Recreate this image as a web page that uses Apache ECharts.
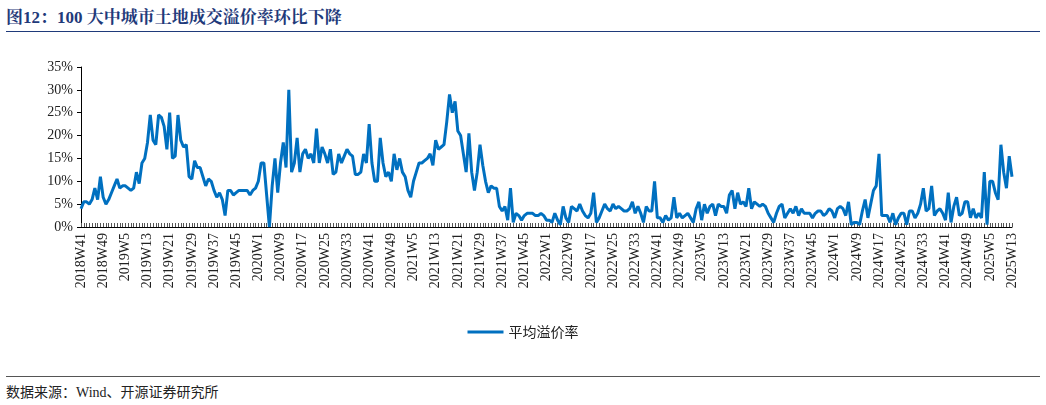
<!DOCTYPE html>
<html><head><meta charset="utf-8">
<script src="https://cdn.jsdelivr.net/npm/echarts@6/dist/echarts.min.js"></script>
<style>
body{margin:0;width:1046px;height:405px;background:#fff;font-family:"Liberation Serif","Noto Sans CJK SC",serif;position:relative;overflow:hidden}
#t{position:absolute;left:6px;top:3px;font-size:17px;font-weight:bold;color:#1f3a7a;font-family:"Liberation Serif","Noto Serif CJK SC","Noto Sans CJK SC"}
#l1{position:absolute;left:6px;right:6px;top:31px;border-top:1px solid #1f3a7a}
#l2{position:absolute;left:6px;right:6px;top:376px;border-top:1px solid #555}
#s{position:absolute;left:6px;top:381px;font-size:14px;color:#222}
#d{position:absolute;left:0;top:40px;width:1046px;height:320px}
</style></head><body>
<div id="t">图12：100 大中城市土地成交溢价率环比下降</div>
<div id="l1"></div>
<div id="d"></div>
<div id="l2"></div>
<div id="s">数据来源：Wind、开源证券研究所</div>
<script>
var seriesName='平均溢价率';
var startYear=2018, startWeek=41, endYear=2025, endWeek=13;
var premium=[
4,5.5,5.5,5,6,8.5,6,11,
6.5,5,6,7.5,9,10.5,8.5,9,
9,8.5,8,8.5,12,9.5,14,15,
18.5,24.5,19,18,24.5,24,22,17,
25,15,15.5,24.5,19,17.5,18,11,
10.5,14.5,13,13,11,9,10.5,10,
8,6.5,7.5,6,2.5,8,8,7,
7.5,8,8,8,8,7,8,8.5,
10,14,14,7,0,9,15,7.5,
14,18.5,13,30,12,14,19.5,12,
16,17,15,16,14,21.5,14,17.5,
16,14,17,11.5,12,16,14,15.5,
17,16,15.5,11.5,11.5,12,16,14,
22.5,14,10,10,19.5,14,11,12,
10,16,12.5,15,12,11,8,6.5,
10,12,14,14,14.5,15,16,13.5,
19,17,17.5,18,23,29,25,27.5,
21,20,16,12,20.5,12,8,12,
18,13.5,10,7.5,9,8.5,8.5,4.5,
3.5,4.5,1.5,8.5,1,3,2.5,1.5,
2.5,3,3,3,2.5,2.5,3,2.5,
1.5,1.5,1,3,1.5,0.5,4.5,2,
1,4.5,4,3.5,5,3.5,2.5,2,
3,7.5,1,2,3.5,5,4,3.5,
5,4,4.5,4,3.5,3.5,4,5.5,
3,4.5,3,1,4.5,3.5,3.5,10,
2,2,1,2.5,1.5,2,6.5,2,
3,2,2.5,3,2,1,4,5.5,
1.5,5,3,4.5,5,2.5,5,4.5,
4.5,3,7,8,4,7.5,5,5.5,
4.5,8.5,4,5.5,5,4.5,5,4.5,
3,2,1,3,4.5,5,2,3,
4,3,4.5,2.5,4,3,3,3,
2,3,3.5,3.5,2.5,3,4,3.5,
2,4,4.5,4,2.5,5.5,0.5,1,
1,0.5,3.5,6,2,5,8,9,
16,2.5,2.5,2.5,1,3,0.5,2,
3,3,0.5,3.5,3.5,2,3,5,
8.5,3.5,4,9,2.5,3.5,4,3,
1.5,7.5,1,4.5,6.5,2.5,3,5.5,
5.5,2,4,2,3,2,12,0.5,
10,10,7.5,6,18,12,8.5,15.5,11
];
var weeks=[];
var y=startYear,w=startWeek;
while(true){
  weeks.push(y+'W'+w);
  if(y===endYear&&w===endWeek)break;
  w++; if(w>52){w=1;y++;}
}
var myChart=echarts.init(document.getElementById('d'));
var option={
  textStyle:{fontFamily:'Liberation Serif, Noto Sans CJK SC'},
  grid:{left:81,right:34,top:27,bottom:133},
  legend:{bottom:16,left:'center',icon:'rect',itemWidth:36,itemHeight:3,
    textStyle:{fontSize:14,color:'#222',fontFamily:'Noto Sans CJK SC'},data:[seriesName]},
  xAxis:{type:'category',data:weeks,boundaryGap:false,
    axisLine:{lineStyle:{color:'#000'}},
    axisTick:{inside:true,interval:0,length:4,lineStyle:{color:'#555'}},
    axisLabel:{interval:7,rotate:90,fontSize:14,color:'#222',margin:6}},
  yAxis:{type:'value',min:0,max:35,interval:5,
    axisLine:{show:true,lineStyle:{color:'#000'}},
    axisTick:{show:true,length:4,lineStyle:{color:'#000'}},
    splitLine:{show:false},
    axisLabel:{formatter:'{value}%',fontSize:14,color:'#222',margin:8}},
  series:[{name:seriesName,type:'line',data:premium,symbol:'none',
    lineStyle:{color:'#0070c0',width:3},itemStyle:{color:'#0070c0'}}]
};
myChart.setOption(option);
</script>
</body></html>
